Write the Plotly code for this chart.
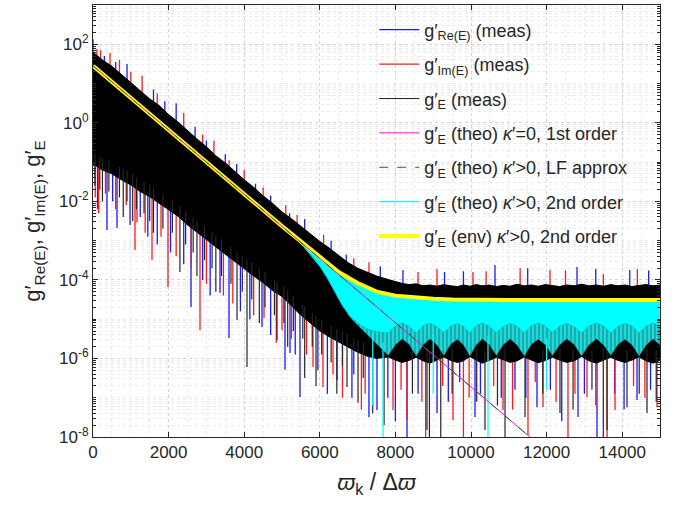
import numpy as np
import plotly.graph_objects as go

# ---------------- data (log10 values) ----------------
meas_x = [0, 250, 500, 750, 1000, 1250, 1500, 1750, 2000, 2250, 2500, 2750, 3000, 3250,
          3500, 3750, 4000, 4250, 4500, 4750, 5000, 5250, 5500, 5750, 6000, 6250, 6500,
          6750, 7000, 7250, 7500,
          7810, 8000, 8180, 8365, 8550, 8730, 8915, 9100, 9280, 9460, 9640, 9800, 9970,
          10135, 10300, 10485, 10670, 10850, 11035, 11220, 11410, 11595, 11780, 11970,
          12155, 12340, 12530, 12730, 12925, 13120, 13320, 13510, 13700, 13890, 14075,
          14260, 14445, 14630, 14815, 15000]
meas_top_log = [1.80, 1.60, 1.44, 1.23, 1.02, 0.83, 0.61, 0.44, 0.21, 0.02, -0.20, -0.41,
                -0.61, -0.84, -1.02, -1.24, -1.45, -1.64, -1.86, -2.05, -2.27, -2.44, -2.64,
                -2.83, -3.02, -3.19, -3.38, -3.56, -3.70, -3.81, -3.90,
                -3.99, -4.05, -4.09, -4.12, -4.10, -4.15, -4.13, -4.16, -4.12, -4.15, -4.17,
                -4.13, -4.16, -4.12, -4.15, -4.13, -4.17, -4.14, -4.16, -4.11, -4.15, -4.13,
                -4.16, -4.12, -4.14, -4.17, -4.13, -4.15, -4.11, -4.15, -4.13, -4.16, -4.12,
                -4.15, -4.13, -4.17, -4.14, -4.12, -4.15, -4.13]
meas_bottom_log = [-1.05, -1.20, -1.30, -1.45, -1.58, -1.75, -1.88, -2.05, -2.22, -2.38,
                   -2.60, -2.78, -2.97, -3.16, -3.34, -3.54, -3.72, -3.90, -4.07, -4.27,
                   -4.42, -4.66, -4.90, -5.10, -5.30, -5.45, -5.58, -5.70, -5.84, -5.94, -6.00,
                   -5.96, -6.04, -6.10, -6.05, -5.97, -6.06, -6.12, -6.04, -5.96, -6.05, -6.10,
                   -6.06, -5.95, -6.04, -6.12, -6.05, -5.97, -6.03, -6.10, -6.06, -5.96, -6.04,
                   -6.11, -6.05, -5.97, -6.04, -6.10, -6.06, -5.95, -6.06, -6.12, -6.04, -5.97,
                   -6.05, -6.10, -6.04, -5.96, -6.06, -6.12, -6.05]

# spikes of the measured traces: x and tip (log10)
re_low_x = [120, 370, 520, 635, 980, 1250, 1450, 1700, 2050, 2400, 2593, 2900, 3100, 3360,
            3598, 3900, 4150, 4471, 4700, 5079, 5212, 5350, 5476, 5950, 6200, 6455, 6850,
            7300, 7513, 7800, 8000, 8307, 8600, 9101, 9400, 9700, 10106, 10250, 10800,
            11164, 11450, 11746, 12100, 12400, 12831, 13000, 13333, 13800, 14050, 14392,
            14750]
re_low_tip = [-2.20, -2.73, -2.00, -2.68, -2.60, -2.40, -2.90, -3.10, -3.30, -3.60, -4.69,
              -4.00, -4.40, -4.33, -5.48, -4.80, -5.00, -5.20, -5.40, -6.29, -5.86, -5.90,
              -6.98, -6.30, -6.90, -6.55, -7.00, -7.50, -7.31, -7.00, -7.60, -8.00, -6.90,
              -7.39, -7.10, -6.60, -7.49, -6.90, -7.00, -6.80, -7.00, -7.24, -6.80, -7.60,
              -7.49, -6.90, -8.00, -6.90, -7.30, -7.06, -6.80]
re_up_x = [0, 300, 600, 900, 1600, 1900, 2200, 2700, 3000, 3500, 3800, 4300, 4700, 5200,
           5600, 6300, 6700, 7600, 8200, 9300, 9800, 10635, 11500, 12804, 13300, 14200, 14700]
re_up_tip = [2.13, 1.70, 1.55, 1.50, 0.85, 0.55, 0.50, -0.10, -0.45, -0.80, -1.05, -1.55,
             -1.85, -2.30, -2.45, -3.00, -3.35, -3.65, -3.75, -3.80, -3.78, -3.62, -3.70,
             -3.67, -3.72, -3.75, -3.76]
im_low_x = [60, 150, 330, 600, 880, 1111, 1164, 1380, 1561, 1800, 1984, 2200, 2600, 2831,
            3000, 3450, 3700, 4250, 4524, 4850, 5000, 5250, 5650, 5820, 6085, 6350, 6600,
            7100, 7200, 7937, 8150, 8307, 8700, 8800, 9250, 9524, 9800, 9950, 10600, 10847,
            11100, 11508, 11700, 11905, 12250, 12566, 12750, 13069, 13300, 13600, 13810,
            14300, 14600, 14921]
im_low_tip = [-1.90, -2.30, -1.80, -2.20, -2.10, -3.24, -2.53, -2.80, -3.49, -2.90, -4.18,
              -3.40, -3.70, -5.28, -4.10, -4.40, -4.60, -4.90, -4.97, -5.60, -5.28, -5.50,
              -5.90, -6.22, -6.73, -6.40, -7.00, -7.30, -6.90, -7.31, -6.80, -7.57, -7.10,
              -8.00, -6.70, -7.57, -8.00, -7.00, -6.70, -7.31, -7.30, -7.95, -6.60, -7.24,
              -7.10, -8.00, -6.90, -6.98, -7.20, -8.00, -7.31, -6.70, -7.00, -7.24]
im_up_x = [100, 200, 450, 700, 1000, 1300, 1700, 2400, 2900, 3200, 3600, 4000, 4500, 5100,
           5400, 6100, 6900, 7300, 8600, 9100, 10053, 10400, 11300, 12090, 12500, 13500, 14400]
im_up_tip = [1.88, 1.85, 1.78, 1.60, 1.30, 1.20, 0.75, 0.25, -0.30, -0.45, -0.95, -1.20,
             -1.65, -2.10, -2.35, -2.85, -3.45, -3.55, -3.80, -3.72, -3.80, -3.78, -3.70,
             -3.75, -3.76, -3.85, -3.72]
e_low_x = [50, 180, 250, 420, 700, 800, 900, 1050, 1150, 1350, 1500, 1600, 1850, 2100, 2300,
           2450, 2650, 2750, 2950, 3150, 3250, 3400, 3650, 3810, 3950, 4074, 4200, 4400,
           4550, 4800, 4868, 5050, 5150, 5300, 5550, 5600, 5800, 5900, 6050, 6300, 6450,
           6600, 6720, 6900, 7011, 7150, 7400, 7700, 8450, 8836, 8900, 9200, 9500, 10150,
           10370, 10700, 10900, 11429, 11900, 12354, 12700, 13200, 13500, 13598, 14127,
           14450, 14656, 14900]
e_low_tip = [-1.60, -1.70, -2.00, -1.75, -1.90, -2.40, -2.00, -2.50, -2.20, -2.30, -2.50,
             -2.80, -2.70, -2.80, -3.80, -3.10, -3.30, -3.90, -3.50, -3.70, -4.30, -3.90,
             -4.10, -5.02, -4.30, -6.22, -4.50, -5.10, -4.70, -4.90, -5.53, -5.10, -5.70,
             -5.30, -5.50, -6.50, -5.70, -6.70, -5.90, -6.10, -6.90, -6.20, -6.73, -6.40,
             -7.13, -6.50, -7.40, -7.70, -6.90, -7.82, -8.00, -8.00, -6.90, -7.10, -7.82,
             -7.20, -8.00, -7.49, -6.90, -7.39, -7.30, -6.80, -8.00, -7.82, -7.24, -6.90,
             -7.39, -7.10]

# theory kappa'=0 and LF approximation (straight on the log axis)
theo0_x = [0, 12000]
theo0_log = [1.45, -8.36]
lf_x = [0, 12000]
lf_log = [1.45, -8.36]

# envelope (yellow)
env_x = [0, 1000, 2000, 3000, 4000, 4500, 5000, 5500, 6000, 6500, 7000, 7500, 8000, 8500,
         9000, 9500, 10000, 11000, 12000, 13000, 14000, 15000]
env_log = [1.45, 0.63, -0.19, -1.00, -1.82, -2.22, -2.63, -3.02, -3.42, -3.80, -4.08, -4.30,
           -4.40, -4.45, -4.48, -4.50, -4.51, -4.51, -4.51, -4.51, -4.51, -4.51]

# 2nd-order theory (cyan): lower edge of the solid band and of the comb
cyan_x = [5400, 5600, 5800, 6000, 6200, 6400, 6600, 6800, 7000, 7200, 7400, 7600,
          7810, 8000, 8180, 8365, 8550, 8730, 8915, 9100, 9280, 9460, 9640, 9800, 9970,
          10135, 10300, 10485, 10670, 10850, 11035, 11220, 11410, 11595, 11780, 11970,
          12155, 12340, 12530, 12730, 12925, 13120, 13320, 13510, 13700, 13890, 14075,
          14260, 14445, 14630, 14815, 15000]
cyan_low_log = [-2.98, -3.18, -3.40, -3.65, -3.95, -4.30, -4.65, -4.92, -5.10, -5.22, -5.30,
                -5.33,
                -5.35, -5.18, -5.10, -5.18, -5.36, -5.17, -5.10, -5.19, -5.35, -5.18, -5.11,
                -5.18, -5.36, -5.17, -5.10, -5.18, -5.35, -5.19, -5.11, -5.18, -5.36, -5.17,
                -5.10, -5.18, -5.35, -5.18, -5.11, -5.19, -5.36, -5.17, -5.10, -5.18, -5.35,
                -5.18, -5.11, -5.17, -5.36, -5.18, -5.10, -5.18]
comb_low_log = [-2.98, -3.18, -3.40, -3.65, -3.95, -4.30, -4.65, -4.95, -5.15, -5.35, -5.55,
                -5.72,
                -5.92, -5.65, -5.50, -5.64, -5.93, -5.66, -5.50, -5.65, -5.92, -5.64, -5.51,
                -5.65, -5.93, -5.66, -5.50, -5.64, -5.92, -5.65, -5.50, -5.66, -5.93, -5.64,
                -5.51, -5.65, -5.92, -5.66, -5.50, -5.64, -5.93, -5.65, -5.50, -5.66, -5.92,
                -5.64, -5.51, -5.65, -5.93, -5.66, -5.50, -5.65]
cyan_spike_x = [7400, 7672, 9000, 10450, 12000]
cyan_spike_tip = [-7.20, -8.00, -6.90, -8.00, -6.80]

x_tickvals = [0, 2000, 4000, 6000, 8000, 10000, 12000, 14000]
x_ticktext = ["0", "2000", "4000", "6000", "8000", "10000", "12000", "14000"]
y_exponents = [-8, -6, -4, -2, 0, 2]

# ---------------- helpers ----------------
def p10(a):
    return [10.0 ** v for v in a]


def spikes(xs, tips, ref_x, ref_log, offset):
    X, Y = [], []
    for x, t in zip(xs, tips):
        base = float(np.interp(x, ref_x, ref_log)) + offset
        X += [x, x, None]
        Y += [10.0 ** base, 10.0 ** t, None]
    return X, Y


FONT = "Liberation Sans, Arial, Helvetica, sans-serif"
fig = go.Figure()

# blue (Re) spikes
bx1, by1 = spikes(re_low_x, re_low_tip, meas_x, meas_bottom_log, 0.3)
bx2, by2 = spikes(re_up_x, re_up_tip, meas_x, meas_top_log, -0.3)
fig.add_trace(go.Scatter(x=bx1 + bx2, y=by1 + by2, mode="lines",
                         line=dict(color="#1a1aff", width=1.3),
                         name="g′<sub>Re(E)</sub> (meas)", legendrank=1, legendgroup="a"))
# red (Im) spikes
rx1, ry1 = spikes(im_low_x, im_low_tip, meas_x, meas_bottom_log, 0.3)
rx2, ry2 = spikes(im_up_x, im_up_tip, meas_x, meas_top_log, -0.3)
fig.add_trace(go.Scatter(x=rx1 + rx2, y=ry1 + ry2, mode="lines",
                         line=dict(color="#ff1a1a", width=1.3),
                         name="g′<sub>Im(E)</sub> (meas)", legendrank=2, legendgroup="b"))
# black measured mass
fig.add_trace(go.Scatter(x=meas_x + meas_x[::-1],
                         y=p10(meas_top_log) + p10(meas_bottom_log[::-1]),
                         mode="lines", fill="toself", fillcolor="#000000",
                         line=dict(color="#000000", width=1), showlegend=False,
                         hoverinfo="skip"))
kx, ky = spikes(e_low_x, e_low_tip, meas_x, meas_bottom_log, 0.3)
fig.add_trace(go.Scatter(x=kx, y=ky, mode="lines", line=dict(color="#262626", width=1.2),
                         name="g′<sub>E</sub> (meas)", legendrank=3, legendgroup="c"))

# cyan solid band (env -> cyan_low) and comb
env_part_x = [x for x in env_x if x >= 5400]
env_part_y = [v for x, v in zip(env_x, env_log) if x >= 5400]
fig.add_trace(go.Scatter(x=env_part_x + cyan_x[::-1],
                         y=p10(env_part_y) + p10(cyan_low_log[::-1]),
                         mode="lines", fill="toself", fillcolor="#00ffff",
                         line=dict(color="#00ffff", width=1), showlegend=False,
                         hoverinfo="skip"))
fig.add_trace(go.Scatter(x=cyan_x + cyan_x[::-1],
                         y=p10(cyan_low_log) + p10(comb_low_log[::-1]),
                         mode="lines", fill="toself", fillcolor="#10c8c8",
                         fillpattern=dict(shape="|", bgcolor="#20d8d8", fgcolor="#006060",
                                          size=4, solidity=0.35),
                         line=dict(color="#10b0b0", width=0.5), showlegend=False,
                         hoverinfo="skip"))
cx, cy = spikes(cyan_spike_x, cyan_spike_tip, cyan_x, comb_low_log, 0.2)
fig.add_trace(go.Scatter(x=cx, y=cy, mode="lines", line=dict(color="#00ffff", width=1.2),
                         name="g′<sub>E</sub> (theo) <i>κ</i>′>0, 2nd order",
                         legendrank=6, legendgroup="f"))

# yellow envelope
fig.add_trace(go.Scatter(x=env_x, y=p10(env_log), mode="lines",
                         line=dict(color="#ffff00", width=4),
                         name="g′<sub>E</sub> (env) <i>κ</i>′>0, 2nd order",
                         legendrank=7, legendgroup="g"))
# magenta theory and LF approx
fig.add_trace(go.Scatter(x=theo0_x, y=p10(theo0_log), mode="lines",
                         line=dict(color="#ff00ff", width=1),
                         name="g′<sub>E</sub> (theo) <i>κ</i>′=0, 1st order",
                         legendrank=4, legendgroup="d"))
fig.add_trace(go.Scatter(x=lf_x, y=p10(lf_log), mode="lines",
                         line=dict(color="#1f6e1f", width=1, dash="dash"),
                         name="g′<sub>E</sub> (theo) <i>κ</i>′>0, LF approx",
                         legendrank=5, legendgroup="e"))

minor_y = [k * 10.0 ** n for n in range(-8, 3) for k in range(1, 10)]

fig.update_layout(
    width=678, height=507,
    margin=dict(l=93, r=18, t=5, b=70, autoexpand=False),
    paper_bgcolor="white", plot_bgcolor="white",
    font=dict(family=FONT, size=17, color="#262626"),
    showlegend=True,
    legend=dict(x=0.496, y=0.985, xanchor="left", yanchor="top",
                bgcolor="rgba(0,0,0,0)", borderwidth=0,
                font=dict(family=FONT, size=18, color="#262626"),
                tracegroupgap=8, itemwidth=40),
    xaxis=dict(range=[0, 15000], tickvals=x_tickvals, ticktext=x_ticktext,
               ticks="inside", ticklen=5, automargin=False,
               tickcolor="#262626", showline=True, linecolor="#262626", linewidth=1,
               mirror="allticks", zeroline=False,
               showgrid=True, gridcolor="#d4d4d4", griddash="dot", gridwidth=1,
               minor=dict(dtick=500, showgrid=True, gridcolor="#ebebeb", griddash="dot",
                          ticks=""),
               tickfont=dict(size=17),
               title=dict(text="<i>ϖ</i><sub>k</sub> / Δ<i>ϖ</i>",
                          font=dict(size=23), standoff=12)),
    yaxis=dict(type="log", range=[-8, 3], automargin=False,
               tickvals=[10.0 ** e for e in y_exponents],
               ticktext=["10<sup>%d</sup>" % e for e in y_exponents],
               ticks="inside", ticklen=5, tickcolor="#262626",
               showline=True, linecolor="#262626", linewidth=1, mirror="allticks",
               showgrid=True, gridcolor="#d4d4d4", griddash="dot", gridwidth=1,
               minor=dict(tickmode="array", tickvals=minor_y, ticks="inside", ticklen=3,
                          tickcolor="#262626", showgrid=True, gridcolor="#ebebeb",
                          griddash="dot"),
               tickfont=dict(size=17),
               title=dict(text="g′<sub>Re(E)</sub>, g′<sub>Im(E)</sub>, g′<sub>E</sub>",
                          font=dict(size=22), standoff=12)),
)

fig.write_html("out.html", config={"displayModeBar": False},
               post_script="document.body.style.margin='0';")
